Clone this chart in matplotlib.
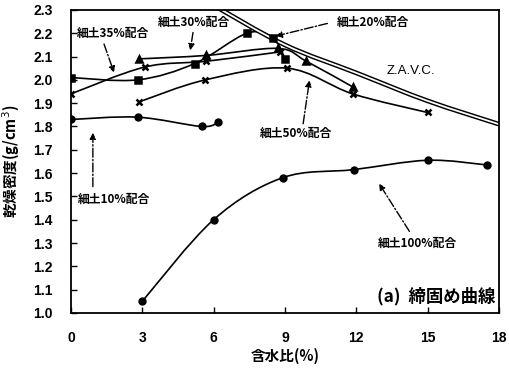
import numpy as np
import matplotlib
matplotlib.use('Agg')
import matplotlib.pyplot as plt
from matplotlib.path import Path
from matplotlib.patches import PathPatch

plt.rcParams['font.family'] = ['Noto Sans CJK JP', 'DejaVu Sans']

# 含水比 (%) / 乾燥密度 (g/cm3)
w10 = [0, 2.8, 5.5, 6.2]
d10 = [1.83, 1.84, 1.80, 1.82]
w20 = [0, 2.8, 5.2, 7.4, 8.5, 9.0]
d20 = [2.01, 2.00, 2.07, 2.20, 2.18, 2.09]
w30 = [2.85, 5.7, 8.7, 9.9, 11.85]
d30 = [2.09, 2.105, 2.135, 2.08, 1.97]
w35 = [0, 3.1, 5.7, 8.8]
d35 = [1.94, 2.055, 2.08, 2.12]
w50 = [2.85, 5.65, 9.1, 11.85, 15.0]
d50 = [1.905, 2.00, 2.05, 1.94, 1.86]
w100 = [3.0, 6.0, 8.9, 11.9, 15.0, 17.5]
d100 = [1.05, 1.40, 1.58, 1.615, 1.655, 1.635]
# ゼロ空気間隙曲線
w_zavc = [6.0, 9.0, 12.0, 15.0, 18.0]
d_zavc = [2.32, 2.15, 2.03, 1.91, 1.81]

xticks = [0, 3, 6, 9, 12, 15, 18]
yticks = np.round(np.arange(1.0, 2.31, 0.1), 1)


def smooth(xs, ys):
    # Catmull-Rom -> bezier
    p = np.column_stack([xs, ys]).astype(float)
    n = len(p)
    verts = [p[0]]
    codes = [Path.MOVETO]
    for i in range(n - 1):
        p0 = p[i - 1] if i > 0 else p[i]
        p3 = p[i + 2] if i + 2 < n else p[i + 1]
        c1 = p[i] + (p[i + 1] - p0) / 6
        c2 = p[i + 1] - (p3 - p[i]) / 6
        verts += [c1, c2, p[i + 1]]
        codes += [Path.CURVE4] * 3
    return Path(verts, codes)


fig = plt.figure(figsize=(5.09, 3.69), dpi=100)
ax = fig.add_axes([0.1395, 0.152, 0.8405, 0.821])

series = [
    (w10, d10, 'o', 4.2),
    (w20, d20, 's', 4.2),
    (w30, d30, '^', 4.5),
    (w35, d35, 'x', 5),
    (w50, d50, 'x', 5),
    (w100, d100, 'o', 4.2),
]
for xs, ys, m, ms in series:
    ax.add_patch(PathPatch(smooth(xs, ys), fill=False, lw=1.2, ec='k'))
    ax.plot(xs, ys, ls='none', marker=m, ms=ms, color='k', mew=1.8)

# double line
zp = smooth(w_zavc, d_zavc)
ax.add_patch(PathPatch(zp, fill=False, lw=3.4, ec='k'))
ax.add_patch(PathPatch(zp, fill=False, lw=1.3, ec='white'))

ax.set_xlim(0, 18)
ax.set_ylim(1.0, 2.3)
ax.set_xticks(xticks)
ax.set_yticks(yticks)
ax.set_yticklabels(['%.1f' % v for v in yticks])
ax.tick_params(direction='in', length=4, width=1, pad=13)
for lab in ax.get_xticklabels() + ax.get_yticklabels():
    lab.set_family(['Liberation Sans Narrow', 'Liberation Sans'])
    lab.set_fontweight('bold')
    lab.set_fontsize(10)
for s in ax.spines.values():
    s.set_linewidth(1.3)

ax.set_xlabel('含水比(%)', fontsize=10.5, fontweight='bold', labelpad=2)
ax.set_ylabel('乾燥密度(g/cm$^3$)', fontsize=10.5, fontweight='bold', labelpad=8)

lab_kw = dict(fontsize=8.5, fontweight='bold', va='center')
arr = dict(arrowstyle='-|>', ls='-.', lw=1.0, color='k', mutation_scale=9)

ax.text(0.25, 2.20, '細土35%配合', ha='left', **lab_kw)
ax.annotate('', xy=(1.85, 2.02), xytext=(1.35, 2.165), arrowprops=arr)

ax.text(3.65, 2.245, '細土30%配合', ha='left', **lab_kw)
ax.annotate('', xy=(5.0, 2.115), xytext=(5.15, 2.215), arrowprops=arr)

ax.text(11.2, 2.245, '細土20%配合', ha='left', **lab_kw)
ax.annotate('', xy=(8.5, 2.185), xytext=(10.9, 2.245), arrowprops=arr)

ax.text(7.95, 1.771, '細土50%配合', ha='left', **lab_kw)
ax.annotate('', xy=(10.05, 2.01), xytext=(9.75, 1.80), arrowprops=arr)

ax.text(0.3, 1.487, '細土10%配合', ha='left', **lab_kw)
ax.annotate('', xy=(0.92, 1.785), xytext=(0.92, 1.53), arrowprops=arr)

ax.text(12.9, 1.298, '細土100%配合', ha='left', **lab_kw)
ax.annotate('', xy=(12.9, 1.565), xytext=(14.3, 1.34), arrowprops=arr)

ax.text(13.3, 2.04, 'Z.A.V.C.', ha='left', va='center', fontsize=9.5,
        family='Liberation Sans')

ax.text(17.85, 1.03, '(a)  締固め曲線', ha='right', va='bottom',
        fontsize=12.5, fontweight='bold',
        bbox=dict(fc='white', ec='none', pad=0.5))

fig.savefig('out.png', dpi=100)
